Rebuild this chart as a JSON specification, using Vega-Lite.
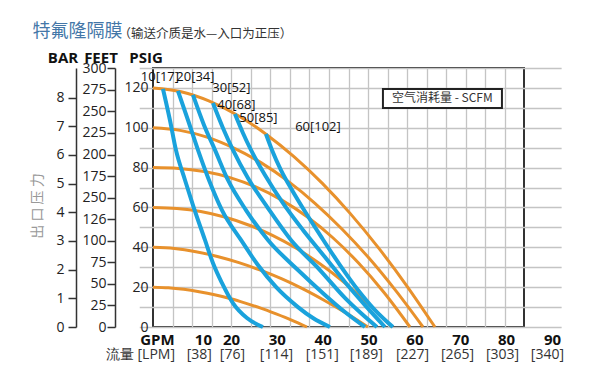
{
  "$schema": "https://vega.github.io/schema/vega-lite/v6.json",
  "width": 371,
  "height": 259,
  "autosize": {"type": "none"},
  "padding": {"left": 153, "top": 68, "right": 76, "bottom": 56},
  "background": "white",
  "datasets": {
    "pressure": [
      {"p": "120", "gpm": 2.99, "psi": 120}, {"p": "120", "gpm": 9.13, "psi": 118.1}, {"p": "120", "gpm": 15.3, "psi": 113.4}, {"p": "120", "gpm": 21.43, "psi": 106.3}, {"p": "120", "gpm": 27.58, "psi": 96.9}, {"p": "120", "gpm": 33.73, "psi": 85.5}, {"p": "120", "gpm": 39.88, "psi": 72.2}, {"p": "120", "gpm": 46.03, "psi": 56.9}, {"p": "120", "gpm": 52.18, "psi": 39.7}, {"p": "120", "gpm": 58.33, "psi": 20.7}, {"p": "120", "gpm": 64.48, "psi": 0},
      {"p": "100", "gpm": 2.99, "psi": 100}, {"p": "100", "gpm": 8.88, "psi": 98.7}, {"p": "100", "gpm": 14.77, "psi": 95.3}, {"p": "100", "gpm": 20.65, "psi": 89.8}, {"p": "100", "gpm": 26.54, "psi": 82.5}, {"p": "100", "gpm": 32.43, "psi": 73.2}, {"p": "100", "gpm": 38.32, "psi": 62.1}, {"p": "100", "gpm": 44.2, "psi": 49.2}, {"p": "100", "gpm": 50.09, "psi": 34.6}, {"p": "100", "gpm": 55.98, "psi": 18.1}, {"p": "100", "gpm": 61.87, "psi": 0},
      {"p": "80", "gpm": 2.99, "psi": 80}, {"p": "80", "gpm": 8.6, "psi": 79.6}, {"p": "80", "gpm": 14.2, "psi": 78.0}, {"p": "80", "gpm": 19.8, "psi": 75.0}, {"p": "80", "gpm": 25.4, "psi": 70.3}, {"p": "80", "gpm": 31.0, "psi": 63.8}, {"p": "80", "gpm": 36.61, "psi": 55.3}, {"p": "80", "gpm": 42.22, "psi": 44.8}, {"p": "80", "gpm": 47.82, "psi": 32.1}, {"p": "80", "gpm": 53.42, "psi": 17.2}, {"p": "80", "gpm": 59.03, "psi": 0},
      {"p": "60", "gpm": 2.99, "psi": 60}, {"p": "60", "gpm": 8.2, "psi": 59.5}, {"p": "60", "gpm": 13.41, "psi": 58.0}, {"p": "60", "gpm": 18.62, "psi": 55.2}, {"p": "60", "gpm": 23.83, "psi": 51.2}, {"p": "60", "gpm": 29.05, "psi": 46.0}, {"p": "60", "gpm": 34.26, "psi": 39.5}, {"p": "60", "gpm": 39.47, "psi": 31.6}, {"p": "60", "gpm": 44.68, "psi": 22.4}, {"p": "60", "gpm": 49.89, "psi": 11.9}, {"p": "60", "gpm": 55.11, "psi": 0},
      {"p": "40", "gpm": 2.99, "psi": 40}, {"p": "40", "gpm": 7.68, "psi": 39.4}, {"p": "40", "gpm": 12.36, "psi": 37.8}, {"p": "40", "gpm": 17.05, "psi": 35.4}, {"p": "40", "gpm": 21.74, "psi": 32.3}, {"p": "40", "gpm": 26.43, "psi": 28.5}, {"p": "40", "gpm": 31.12, "psi": 24.1}, {"p": "40", "gpm": 35.8, "psi": 19.0}, {"p": "40", "gpm": 40.49, "psi": 13.2}, {"p": "40", "gpm": 45.18, "psi": 6.9}, {"p": "40", "gpm": 49.87, "psi": 0},
      {"p": "20", "gpm": 2.99, "psi": 20}, {"p": "20", "gpm": 6.35, "psi": 19.7}, {"p": "20", "gpm": 9.7, "psi": 18.9}, {"p": "20", "gpm": 13.06, "psi": 17.7}, {"p": "20", "gpm": 16.42, "psi": 16.2}, {"p": "20", "gpm": 19.78, "psi": 14.3}, {"p": "20", "gpm": 23.14, "psi": 12.0}, {"p": "20", "gpm": 26.49, "psi": 9.5}, {"p": "20", "gpm": 29.85, "psi": 6.6}, {"p": "20", "gpm": 33.21, "psi": 3.5}, {"p": "20", "gpm": 36.57, "psi": 0}
    ],
    "air": [
      {"s": "10", "gpm": 5.17, "psi": 119.5}, {"s": "10", "gpm": 6.69, "psi": 103.9}, {"s": "10", "gpm": 8.0, "psi": 88.9}, {"s": "10", "gpm": 9.97, "psi": 73.8}, {"s": "10", "gpm": 11.71, "psi": 61.2}, {"s": "10", "gpm": 14.33, "psi": 43.7}, {"s": "10", "gpm": 16.07, "psi": 32.1}, {"s": "10", "gpm": 18.03, "psi": 22.1}, {"s": "10", "gpm": 20.43, "psi": 12.0}, {"s": "10", "gpm": 23.49, "psi": 4.5}, {"s": "10", "gpm": 26.97, "psi": 0},
      {"s": "20", "gpm": 8.44, "psi": 118.5}, {"s": "20", "gpm": 10.62, "psi": 103.9}, {"s": "20", "gpm": 12.8, "psi": 88.9}, {"s": "20", "gpm": 15.2, "psi": 73.8}, {"s": "20", "gpm": 18.03, "psi": 58.7}, {"s": "20", "gpm": 22.18, "psi": 43.7}, {"s": "20", "gpm": 25.88, "psi": 31.1}, {"s": "20", "gpm": 29.81, "psi": 20.1}, {"s": "20", "gpm": 34.61, "psi": 10.0}, {"s": "20", "gpm": 37.88, "psi": 4.5}, {"s": "20", "gpm": 41.58, "psi": 0},
      {"s": "30", "gpm": 11.71, "psi": 116.5}, {"s": "30", "gpm": 14.11, "psi": 101.4}, {"s": "30", "gpm": 16.51, "psi": 88.9}, {"s": "30", "gpm": 19.34, "psi": 73.8}, {"s": "30", "gpm": 23.27, "psi": 58.7}, {"s": "30", "gpm": 28.06, "psi": 43.7}, {"s": "30", "gpm": 34.61, "psi": 28.6}, {"s": "30", "gpm": 40.49, "psi": 16.1}, {"s": "30", "gpm": 44.85, "psi": 7.5}, {"s": "30", "gpm": 49.22, "psi": 0},
      {"s": "40", "gpm": 16.07, "psi": 112.4}, {"s": "40", "gpm": 18.25, "psi": 99.9}, {"s": "40", "gpm": 20.43, "psi": 88.9}, {"s": "40", "gpm": 23.7, "psi": 74.8}, {"s": "40", "gpm": 28.06, "psi": 59.7}, {"s": "40", "gpm": 33.08, "psi": 43.7}, {"s": "40", "gpm": 39.4, "psi": 28.6}, {"s": "40", "gpm": 44.85, "psi": 14.6}, {"s": "40", "gpm": 48.56, "psi": 6.5}, {"s": "40", "gpm": 51.83, "psi": 0},
      {"s": "50", "gpm": 20.87, "psi": 106.9}, {"s": "50", "gpm": 22.61, "psi": 97.4}, {"s": "50", "gpm": 24.36, "psi": 88.9}, {"s": "50", "gpm": 27.41, "psi": 76.3}, {"s": "50", "gpm": 31.34, "psi": 62.2}, {"s": "50", "gpm": 35.7, "psi": 48.7}, {"s": "50", "gpm": 40.49, "psi": 35.1}, {"s": "50", "gpm": 44.85, "psi": 22.6}, {"s": "50", "gpm": 49.22, "psi": 11.0}, {"s": "50", "gpm": 53.58, "psi": 0},
      {"s": "60", "gpm": 27.63, "psi": 96.9}, {"s": "60", "gpm": 28.94, "psi": 88.9}, {"s": "60", "gpm": 30.9, "psi": 78.8}, {"s": "60", "gpm": 33.3, "psi": 68.8}, {"s": "60", "gpm": 36.35, "psi": 57.2}, {"s": "60", "gpm": 39.84, "psi": 44.7}, {"s": "60", "gpm": 43.77, "psi": 31.1}, {"s": "60", "gpm": 47.69, "psi": 18.6}, {"s": "60", "gpm": 51.4, "psi": 8.5}, {"s": "60", "gpm": 55.32, "psi": 0}
    ],
    "airLabels": [
      {"label": "10[17]", "gpm": 4.51, "psi": 125.5},
      {"label": "20[34]", "gpm": 12.25, "psi": 125.5},
      {"label": "30[52]", "gpm": 20.1, "psi": 120.2},
      {"label": "40[68]", "gpm": 21.2, "psi": 111.2},
      {"label": "50[85]", "gpm": 26.0, "psi": 104.9},
      {"label": "60[102]", "gpm": 38.97, "psi": 100.2}
    ]
  },
  "layer": [
    {
      "layer": [
        {
          "data": {"name": "pressure"},
          "mark": {"type": "line", "interpolate": "monotone", "color": "#e8912c", "strokeWidth": 3},
          "encoding": {
            "x": {"field": "gpm", "type": "quantitative",
              "scale": {"domain": [0, 92], "range": [-13.76, 408.15], "nice": false, "zero": false},
              "axis": {"orient": "bottom", "title": null, "labels": false, "ticks": false, "domain": false,
                "grid": true, "gridColor": "#c4c4c4", "gridWidth": 1.3, "gridOpacity": 1, "tickCount": 100,
                "values": [7.263, 11.526, 15.789, 20.053, 24.316, 28.579, 32.842, 37.105, 41.368, 45.632, 49.895, 54.158, 58.421, 62.684, 66.947, 71.211, 75.474, 79.737]}},
            "y": {"field": "psi", "type": "quantitative",
              "scale": {"domain": [0, 130], "nice": false},
              "axis": {"orient": "left", "title": "PSIG", "values": [0, 10, 20, 30, 40, 50, 60, 70, 80, 90, 100, 110, 120, 130],
                "labelExpr": "datum.value % 20 == 0 && datum.value <= 120 ? format(datum.value, 'd') : ''",
                "ticks": false, "domain": false, "tickCount": 100,
                "grid": true, "gridColor": "#c4c4c4", "gridWidth": 1.3, "gridOpacity": 1,
                "labelPadding": 5, "labelFontSize": 14,
                "titleAngle": 0, "titleX": -7.5, "titleY": -10.5, "titleAlign": "center", "titleBaseline": "middle"}},
            "detail": {"field": "p"}
          }
        },
        {
          "data": {"name": "air"},
          "mark": {"type": "line", "interpolate": "monotone", "color": "#1aa2dc", "strokeWidth": 4},
          "encoding": {
            "x": {"field": "gpm", "type": "quantitative"},
            "y": {"field": "psi", "type": "quantitative"},
            "detail": {"field": "s"}
          }
        },
        {
          "data": {"name": "airLabels"},
          "mark": {"type": "text", "fontSize": 13, "color": "#111", "align": "center", "baseline": "middle"},
          "encoding": {
            "x": {"field": "gpm", "type": "quantitative"},
            "y": {"field": "psi", "type": "quantitative"},
            "text": {"field": "label"}
          }
        },
        {
          "data": {"values": [{}]},
          "mark": {"type": "rect", "fill": "white", "stroke": "#222", "strokeWidth": 2},
          "encoding": {
            "x": {"datum": 53.14, "type": "quantitative"},
            "x2": {"datum": 79.09},
            "y": {"datum": 119.5, "type": "quantitative"},
            "y2": {"datum": 109.9}
          }
        },
        {
          "data": {"values": [{}]},
          "mark": {"type": "text", "fontSize": 12, "color": "#333", "font": "Noto Sans CJK SC", "align": "center", "baseline": "middle", "text": "空气消耗量 - SCFM"},
          "encoding": {
            "x": {"datum": 66.1, "type": "quantitative"},
            "y": {"datum": 114.7, "type": "quantitative"}
          }
        }
      ]
    },
    {
      "data": {"values": [{}]},
      "mark": {"type": "rule", "opacity": 0},
      "encoding": {
        "x": {"datum": 40, "type": "quantitative",
          "scale": {"domain": [0, 92], "range": [-13.76, 408.15], "nice": false, "zero": false},
          "axis": {"orient": "bottom", "title": null, "ticks": false, "domain": false, "grid": false,
            "values": [3.86, 13.89, 20, 30, 40, 50, 60, 70, 80, 90],
            "labelExpr": "datum.value < 5 ? 'GPM' : datum.value < 15 ? '10' : format(datum.value, 'd')",
            "labelFontWeight": "bold", "labelFontSize": 15, "labelColor": "#111", "labelPadding": 5}}
      }
    },
    {
      "data": {"values": [{}]},
      "mark": {"type": "rule", "opacity": 0},
      "encoding": {
        "x": {"datum": 40, "type": "quantitative",
          "scale": {"domain": [0, 92], "range": [-13.76, 408.15], "nice": false, "zero": false},
          "axis": {"orient": "bottom", "title": null, "ticks": false, "domain": false, "grid": false,
            "values": [0.15, 13.0, 20.2, 29.8, 39.8, 49.4, 59.5, 69.3, 79.1, 88.9],
            "labelExpr": "datum.value < 5 ? '流量 [LPM]' : datum.value < 16 ? '[38]' : datum.value < 25 ? '[76]' : datum.value < 35 ? '[114]' : datum.value < 45 ? '[151]' : datum.value < 55 ? '[189]' : datum.value < 65 ? '[227]' : datum.value < 75 ? '[265]' : datum.value < 85 ? '[303]' : '[340]'",
            "labelFontSize": 14, "labelColor": "#333", "labelPadding": 20}}
      }
    },
    {
      "data": {"values": [{}]},
      "mark": {"type": "rule", "opacity": 0},
      "encoding": {
        "x": {"datum": 40, "type": "quantitative",
          "scale": {"domain": [0, 92], "range": [-13.76, 408.15], "nice": false, "zero": false},
          "axis": {"orient": "top", "title": "特氟隆隔膜", "labels": false, "ticks": false, "domain": false, "grid": false,
            "titleX": -121, "titleY": -36.5, "titleAlign": "left", "titleBaseline": "middle", "titleAngle": 0,
            "titleFont": "Noto Sans CJK SC", "titleFontSize": 18, "titleFontWeight": "normal", "titleColor": "#4477a8"}}
      }
    },
    {
      "data": {"values": [{}]},
      "mark": {"type": "rule", "opacity": 0},
      "encoding": {
        "x": {"datum": 40, "type": "quantitative",
          "scale": {"domain": [0, 92], "range": [-13.76, 408.15], "nice": false, "zero": false},
          "axis": {"orient": "top", "title": "（输送介质是水—入口为正压）", "labels": false, "ticks": false, "domain": false, "grid": false,
            "titleX": -35, "titleY": -35, "titleAlign": "left", "titleBaseline": "middle", "titleAngle": 0,
            "titleFont": "Noto Sans CJK SC", "titleFontSize": 12.5, "titleFontWeight": "normal", "titleColor": "#333"}}
      }
    },
    {
      "data": {"values": [{}]},
      "mark": {"type": "rule", "opacity": 0},
      "encoding": {
        "y": {"datum": 0, "type": "quantitative",
          "scale": {"domain": [0, 300.3], "nice": false},
          "axis": {"orient": "left", "offset": 38, "title": "FEET",
            "values": [0, 25, 50, 75, 100, 125, 150, 175, 200, 225, 250, 275, 300],
            "labelExpr": "datum.value == 125 ? '126' : datum.value == 150 ? '250' : format(datum.value, 'd')",
            "grid": false, "tickSize": 8, "tickColor": "#333", "tickWidth": 1.5, "domainColor": "#333", "domainWidth": 1.5,
            "labelPadding": 1, "labelFontSize": 14,
            "titleAngle": 0, "titleX": -14.5, "titleY": -10.5, "titleAlign": "center", "titleBaseline": "middle"}}
      }
    },
    {
      "data": {"values": [{}]},
      "mark": {"type": "rule", "opacity": 0},
      "encoding": {
        "y": {"datum": 0, "type": "quantitative",
          "scale": {"domain": [0, 9.03], "nice": false},
          "axis": {"orient": "left", "offset": 77, "title": "BAR", "format": "d",
            "values": [0, 1, 2, 3, 4, 5, 6, 7, 8],
            "grid": false, "tickSize": 8, "tickColor": "#333", "tickWidth": 1.5, "domainColor": "#333", "domainWidth": 1.5,
            "labelPadding": 4, "labelFontSize": 14,
            "titleAngle": 0, "titleX": -13.5, "titleY": -10.5, "titleAlign": "center", "titleBaseline": "middle"}}
      }
    },
    {
      "data": {"values": [{}]},
      "mark": {"type": "rule", "opacity": 0},
      "encoding": {
        "y": {"datum": 0, "type": "quantitative",
          "scale": {"domain": [0, 1], "nice": false},
          "axis": {"orient": "left", "offset": 116, "title": "出 口 压 力",
            "labels": false, "ticks": false, "domain": false, "grid": false,
            "titleAngle": 270, "titleX": 0, "titleY": 137.5, "titleAlign": "center", "titleBaseline": "middle",
            "titleFont": "Noto Sans CJK SC", "titleFontSize": 14, "titleFontWeight": "normal", "titleColor": "#999"}}
      }
    }
  ],
  "resolve": {"scale": {"y": "independent"}, "axis": {"x": "independent", "y": "independent"}},
  "config": {
    "font": "Open Sans",
    "view": {"stroke": "#333", "strokeWidth": 2},
    "axis": {"labelFont": "Open Sans", "titleFont": "Open Sans", "labelColor": "#222", "labelOverlap": false, "labelFlush": false,
      "titleFontSize": 15, "titleFontWeight": "bold", "titleColor": "#111"}
  }
}
